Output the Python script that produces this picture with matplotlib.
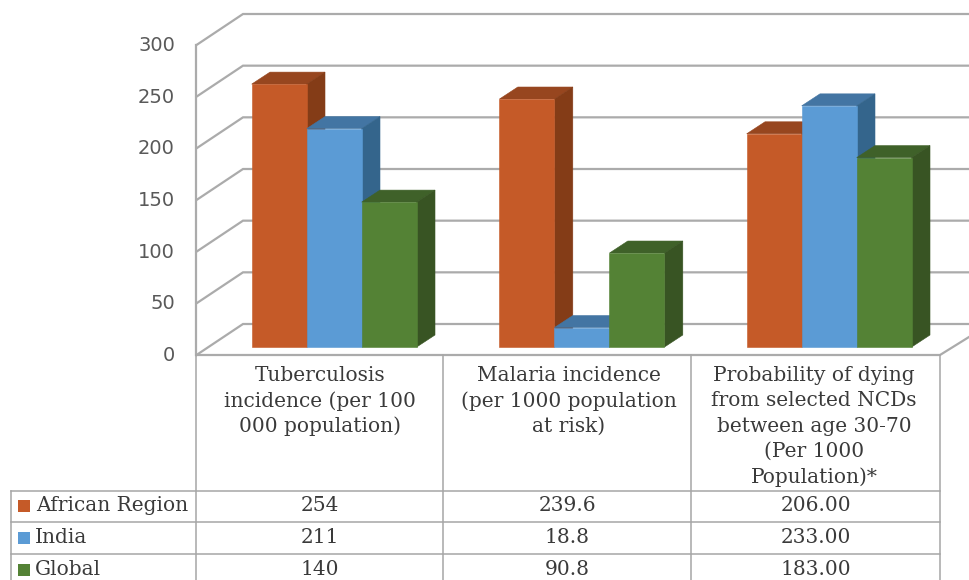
import matplotlib
matplotlib.use("Agg")
import matplotlib.pyplot as plt
from matplotlib.patches import Polygon, Rectangle

# data
series_names = ["African Region", "India", "Global"]
african = [254, 239.6, 206.00]
india = [211, 18.8, 233.00]
global_ = [140, 90.8, 183.00]
african_labels = ["254", "239.6", "206.00"]
india_labels = ["211", "18.8", "233.00"]
global_labels = ["140", "90.8", "183.00"]
categories = [
    ["Tuberculosis", "incidence (per 100", "000 population)"],
    ["Malaria incidence", "(per 1000 population", "at risk)"],
    ["Probability of dying", "from selected NCDs", "between age 30-70", "(Per 1000", "Population)*"],
]
y_ticks = [0, 50, 100, 150, 200, 250, 300]

# colours: front, top, side
ORANGE = ("#C55A28", "#97461F", "#843C17")
BLUE = ("#5B9BD5", "#4375A3", "#34658C")
GREEN = ("#548235", "#3F6129", "#385423")
GRID = "#ABABAB"
TEXT = "#3A3A3A"

W, H = 969, 580
cluster_left = [251.7, 499.5, 746.7]
bar_w = 55.0
depth_x, depth_y = 18.3, 12.0
base_y = 347.0
bar_scale = 1.035
wall_front_x, wall_back_x = 196.5, 243.0
wall_zero_y = 355.0
wall_scale = 310 / 300
back_offset = 31.0
col_x = [196.5, 443.5, 691.5, 940.0]
row_y = [490.5, 522.3, 554.3]

fig = plt.figure(figsize=(W / 100, H / 100), dpi=100, facecolor="white")
ax = fig.add_axes([0, 0, 1, 1])
ax.set_xlim(0, W)
ax.set_ylim(H, 0)
ax.axis("off")


def bar_top(v):
    return base_y - v * bar_scale


def wall_y(v):
    return wall_zero_y - v * wall_scale


# walls and gridlines
for v in y_ticks:
    y0 = wall_y(v)
    y1 = y0 - back_offset
    ax.plot([wall_front_x, wall_back_x, W], [y0, y1, y1], color=GRID, lw=1.6, zorder=1,
            solid_joinstyle="miter")
    ax.text(175, y0 + 0.5, str(v), ha="right", va="center", fontsize=14,
            family="DejaVu Sans", color="#595959")
ax.plot([wall_front_x, wall_front_x], [wall_y(300), wall_zero_y], color=GRID, lw=1.6, zorder=1)
ax.plot([wall_front_x, 940, W], [wall_zero_y, wall_zero_y, 337], color=GRID, lw=1.6, zorder=1)


def draw_bar(x, v, colours, z):
    front, top, side = colours
    yt = bar_top(v)
    ax.add_patch(Polygon([(x, yt), (x + depth_x, yt - depth_y), (x + bar_w + depth_x, yt - depth_y),
                          (x + bar_w, yt)], closed=True, fc=top, ec=top, lw=0.4, zorder=z))
    ax.add_patch(Polygon([(x + bar_w, yt), (x + bar_w + depth_x, yt - depth_y),
                          (x + bar_w + depth_x, base_y - depth_y), (x + bar_w, base_y)],
                         closed=True, fc=side, ec=side, lw=0.4, zorder=z))
    ax.add_patch(Rectangle((x, yt), bar_w, base_y - yt, fc=front, ec=front, lw=0.4, zorder=z + 0.5))


for c, left in enumerate(cluster_left):
    for s, (vals, colours) in enumerate(zip([african, india, global_], [ORANGE, BLUE, GREEN])):
        draw_bar(left + s * bar_w, vals[c], colours, 2 + s)

# data table grid
table_kw = dict(color="#A6A6A6", lw=1.1, zorder=1)
for x in col_x:
    ax.plot([x, x], [wall_zero_y, H], **table_kw)
ax.plot([11, 11], [row_y[0], H], **table_kw)
for y in row_y:
    ax.plot([11, col_x[-1]], [y, y], **table_kw)

serif = dict(family="DejaVu Serif", color=TEXT, fontsize=14.5, ha="center", va="center")

# category header cells
header_nudge = [0, 1, -1.5]
for c, lines in enumerate(categories):
    xc = (col_x[c] + col_x[c + 1]) / 2 + header_nudge[c]
    for i, line in enumerate(lines):
        ax.text(xc, 375.5 + i * 25.4, line, **serif)

# legend keys and value rows
rows = [african_labels, india_labels, global_labels]
for r, (name, colours, labels) in enumerate(zip(series_names, [ORANGE, BLUE, GREEN], rows)):
    yc = (row_y[r] + (row_y[r + 1] if r < 2 else row_y[r] + 32)) / 2
    ax.add_patch(Rectangle((18, yc - 6), 12.5, 12, fc=colours[0], ec="none", zorder=3))
    ax.text(35 if r else 36, yc - 1, name, **{**serif, "ha": "left"})
    for c, label in enumerate(labels):
        ax.text((col_x[c] + col_x[c + 1]) / 2, yc - 1, label, **serif)

fig.savefig("out.png", dpi=100, facecolor="white")
